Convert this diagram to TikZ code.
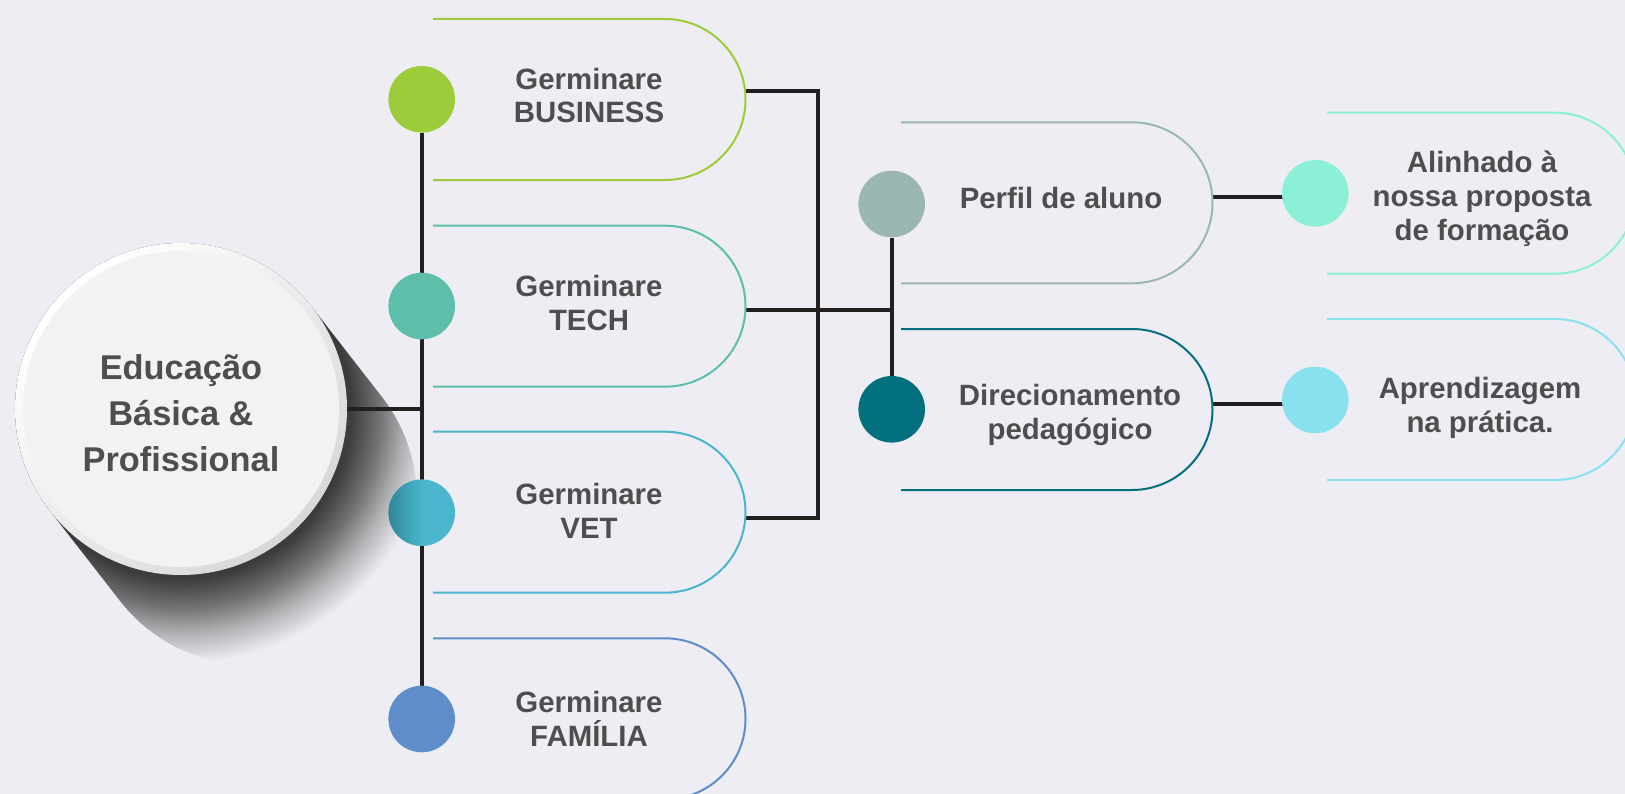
\documentclass[tikz,border=0pt]{standalone}
\usepackage{fontspec}
\setmainfont{Liberation Sans}
\usepackage{tikz}
\usetikzlibrary{backgrounds}
\definecolor{bg}{HTML}{EEEDF3}
\definecolor{txt}{HTML}{4E4E4E}
\definecolor{ln}{HTML}{231F20}
\definecolor{hubfill}{HTML}{F2F2F2}
\definecolor{hubrim}{HTML}{D8D8D8}
\definecolor{shd}{HTML}{3C3C3C}
\definecolor{shdmid}{HTML}{747476}
\definecolor{shdlight}{HTML}{B2B2B5}
\definecolor{business}{HTML}{9DCC3A}
\definecolor{tech}{HTML}{5DBFA9}
\definecolor{vet}{HTML}{4AB5CC}
\definecolor{vetdk}{HTML}{2F8799}
\definecolor{familia}{HTML}{5E8DC9}
\definecolor{perfil}{HTML}{9AB7B1}
\definecolor{direc}{HTML}{037080}
\definecolor{alinhado}{HTML}{8CF0D7}
\definecolor{aprend}{HTML}{89E0EF}
\pgfdeclareradialshading{hubshadow}{\pgfpoint{0bp}{0bp}}{color(0bp)=(shd); color(16bp)=(shd); color(18.8bp)=(shdmid); color(21.2bp)=(shdlight); color(24bp)=(bg); color(50bp)=(bg)}
\newcommand{\pillr}{80.5}
\newcommand{\dotsize}{66.6bp}
\newcommand{\lblfont}{\fontsize{29.5}{34}\selectfont\bfseries}
\newcommand{\hubfont}{\fontsize{34.5}{46}\selectfont\bfseries}

\begin{document}
\begin{tikzpicture}[x=1bp, y=-1bp,
  dot/.style={circle, minimum size=\dotsize, inner sep=0pt},
  lbl/.style={text=txt, font=\lblfont, align=center},
  link/.style={draw=ln, line width=4bp},
  pill/.style={line width=2bp}]
\useasboundingbox (0,0) rectangle (1625,794);
% hub
\node[circle, minimum size=332bp, inner sep=0pt, top color=white, bottom color=hubrim, shading angle=45,
  path picture={\fill[hubfill] (path picture bounding box.center) circle (158bp);}] (edu) at (181,409) {};
\node[text=txt, font=\hubfont, align=center] (edul) at (181,413) {Educação\\Básica \&\\Profissional};
% dots
\node[dot, fill=business] (bus) at (421.7,99.3) {};
\node[dot, fill=tech] (tech) at (421.7,306) {};
\node[dot, left color=vetdk, right color=vet, middle color=vet] (vet) at (421.7,512.7) {};
\node[dot, fill=familia] (fam) at (421.7,719) {};
\node[dot, fill=perfil] (perf) at (891.7,204) {};
\node[dot, fill=direc] (dir) at (891.7,409.3) {};
\node[dot, fill=alinhado] (alin) at (1315.3,193.3) {};
\node[dot, fill=aprend] (apr) at (1315.3,400) {};
% labels
\node[lbl] (busl) at (589,95.5) {Germinare\\BUSINESS};
\node[lbl] (techl) at (589,303) {Germinare\\TECH};
\node[lbl] (vetl) at (589,511) {Germinare\\VET};
\node[lbl] (faml) at (589,719) {Germinare\\FAMÍLIA};
\node[lbl] (perfl) at (1061,197.5) {Perfil de aluno};
\node[lbl] (dirl) at (1070,415) {Direcionamento\\pedagógico};
\node[lbl] (alinl) at (1482,199) {Alinhado à\\nossa proposta\\de formação};
\node[lbl] (aprl) at (1480,407.5) {Aprendizagem\\na prática.};
% pills
\draw[pill, business] (433,19) -- (665,19) arc[start angle=-90, end angle=90, radius=\pillr] -- (433,180);
\draw[pill, tech] (433,225.7) -- (665,225.7) arc[start angle=-90, end angle=90, radius=\pillr] -- (433,386.7);
\draw[pill, vet] (433,431.7) -- (665,431.7) arc[start angle=-90, end angle=90, radius=\pillr] -- (433,592.7);
\draw[pill, familia] (433,638.3) -- (665,638.3) arc[start angle=-90, end angle=90, radius=\pillr] -- (433,799.3);
\draw[pill, perfil] (901,122.3) -- (1132,122.3) arc[start angle=-90, end angle=90, radius=\pillr] -- (901,283.3);
\draw[pill, direc] (901,329) -- (1132,329) arc[start angle=-90, end angle=90, radius=\pillr] -- (901,490);
\draw[pill, alinhado] (1327,112.7) -- (1555,112.7) arc[start angle=-90, end angle=90, radius=\pillr] -- (1327,273.7);
\draw[pill, aprend] (1327,319) -- (1555,319) arc[start angle=-90, end angle=90, radius=\pillr] -- (1327,480);
% connector ends
\coordinate (busR) at (745.5,91);
\coordinate (techR) at (745.5,309.5);
\coordinate (vetR) at (745.5,518);
\coordinate (brk) at (818,518);
\coordinate (perfR) at (1213,197);
\coordinate (dirR) at (1213,403.5);
\begin{scope}[on background layer]
\fill[bg] (0,0) rectangle (1625,794);
% long shadow of hub
\begin{scope}
\clip (382,397) arc[start angle=-37.9, end angle=142.1, radius=166]
  -- (50,511) arc[start angle=142.1, end angle=322.1, radius=166] -- cycle;
\shade[shading=hubshadow] (edu.center) circle (265bp);
\end{scope}
\draw[link] (bus) -- (fam);
\draw[link] (edu.east) -- (edu.east -| bus);
\draw[link] (busR) -| (brk) -- (vetR);
\draw[link] (techR) -- (techR -| perf);
\draw[link] (perf) -- (dir);
\draw[link] (perfR) -- (perfR -| alin);
\draw[link] (dirR) -- (dirR -| apr);
\end{scope}
\end{tikzpicture}
\end{document}
